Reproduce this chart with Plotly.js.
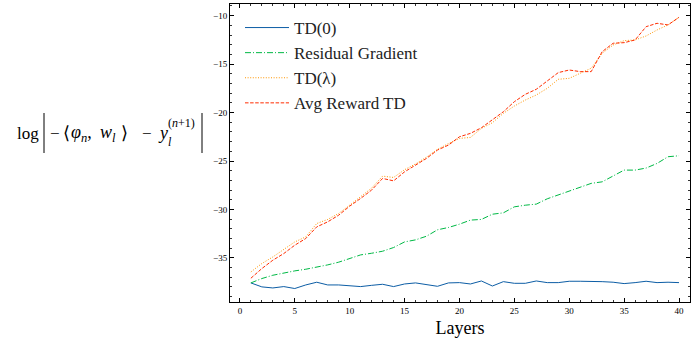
<!DOCTYPE html>
<html>
<head>
<meta charset="utf-8">
<script src="https://cdn.plot.ly/plotly-3.0.1.min.js"></script>
<style>html,body{margin:0;padding:0;background:#fff;}#chart{width:691px;height:341px;}</style>
</head>
<body>
<div id="chart"></div>
<script>
const layers = [1,2,3,4,5,6,7,8,9,10,11,12,13,14,15,16,17,18,19,20,21,22,23,24,25,26,27,28,29,30,31,32,33,34,35,36,37,38,39,40];
const td0 = [-37.58,-37.99,-38.1,-37.96,-38.16,-37.79,-37.51,-37.79,-37.79,-37.86,-37.96,-37.83,-37.72,-37.96,-37.69,-37.58,-37.72,-37.93,-37.58,-37.55,-37.69,-37.38,-37.9,-37.45,-37.62,-37.62,-37.38,-37.55,-37.55,-37.41,-37.41,-37.41,-37.45,-37.51,-37.65,-37.55,-37.41,-37.55,-37.51,-37.55];
const residualGradient = [-37.58,-37.13,-36.79,-36.55,-36.34,-36.17,-35.96,-35.72,-35.44,-35.1,-34.69,-34.52,-34.31,-33.93,-33.35,-33.14,-32.76,-32.1,-31.86,-31.52,-31.1,-31.03,-30.49,-30.35,-29.73,-29.56,-29.45,-28.9,-28.49,-28.11,-27.7,-27.31,-27.15,-26.56,-25.94,-25.94,-25.73,-25.25,-24.56,-24.46];
const tdLambda = [-36.45,-35.58,-34.9,-34.13,-33.35,-32.83,-31.45,-31.03,-30.41,-29.56,-28.7,-27.8,-26.56,-26.7,-25.9,-25.3,-24.6,-23.8,-23.2,-22.67,-22.57,-21.63,-21.05,-20.08,-19.33,-18.71,-18.19,-17.5,-16.57,-16.47,-15.95,-15.43,-13.88,-13.03,-12.58,-12.51,-12.1,-11.48,-10.96,-10.17];
const avgRewardTD = [-37.1,-36.1,-35.24,-34.55,-33.69,-33.0,-31.8,-31.28,-30.59,-29.66,-28.86,-28.0,-26.8,-27.05,-26.12,-25.42,-24.73,-23.87,-23.36,-22.5,-22.15,-21.57,-20.77,-19.92,-18.88,-18.12,-17.6,-16.71,-15.88,-15.61,-15.78,-15.78,-13.72,-12.85,-12.79,-12.51,-11.14,-10.79,-10.96,-10.17];
const seriesNames = ['TD(0)', 'Residual Gradient', 'TD(\u03BB)', 'Avg Reward TD'];
const xTickVals = [0,5,10,15,20,25,30,35,40];
const yTickVals = [-35,-30,-25,-20,-15,-10];

const serif = 'Liberation Serif, DejaVu Serif, serif';
const series = [td0, residualGradient, tdLambda, avgRewardTD];
const colors = ['#0C5DA5', '#00B945', '#FF9500', '#FF2C00'];
const dashes = ['solid', '6px,2px,1px,2px', '1px,1.6px', '3.5px,1.6px'];

const traces = series.map((ys, i) => ({
  x: layers, y: ys, type: 'scatter', mode: 'lines', name: seriesNames[i],
  legendgroup: 'g' + i,
  line: {color: colors[i], dash: dashes[i], width: 1}
}));

// pixel helpers for decorative label placement (paper coords)
const L = 230, R = 1, T = 4, B = 39, W = 691, H = 341;
const pw = W - L - R, ph = H - T - B;
const px = x => (x - L) / pw;
const py = y => 1 - (y - T) / ph;

const axisCommon = {
  showline: true, linecolor: '#000', linewidth: 1, mirror: 'allticks',
  ticks: 'inside', ticklen: 4, tickwidth: 1, tickcolor: '#000',
  showgrid: false, zeroline: false,
  tickfont: {family: serif, size: 9, color: '#000'},
  minor: {ticks: 'inside', ticklen: 2, tickwidth: 0.8, tickcolor: '#000', dtick: 1, showgrid: false}
};

function lab(x, y, text, size) {
  return {xref: 'paper', yref: 'paper', x: px(x), y: py(y), xanchor: 'left', yanchor: 'middle',
    showarrow: false, text: text, font: {family: serif, size: size, color: '#000'}};
}

const layout = {
  width: W, height: H,
  margin: {l: L, r: R, t: T, b: B},
  paper_bgcolor: '#fff', plot_bgcolor: '#fff',
  showlegend: true,
  legend: {x: px(240), y: py(10), xanchor: 'left', yanchor: 'top',
    font: {family: serif, size: 17, color: '#222'}, bgcolor: 'rgba(0,0,0,0)',
    traceorder: 'grouped', tracegroupgap: 0, itemwidth: 44},
  xaxis: Object.assign({}, axisCommon, {
    range: [-0.9, 41.0], tickvals: xTickVals,
    title: {text: 'Layers', font: {family: serif, size: 18, color: '#000'}, standoff: 6}
  }),
  yaxis: Object.assign({}, axisCommon, {
    range: [-39.55, -8.8], tickvals: yTickVals
  }),
  shapes: [
    {type: 'line', xref: 'paper', yref: 'paper', x0: px(44), x1: px(44), y0: py(113), y1: py(153), line: {color: '#000', width: 1}},
    {type: 'line', xref: 'paper', yref: 'paper', x0: px(202), x1: px(202), y0: py(113), y1: py(153), line: {color: '#000', width: 1}}
  ],
  annotations: [
    lab(15, 133, 'log', 17),
    lab(48, 133, '\u2212', 17),
    lab(61, 133, '\u27E8', 18),
    lab(69, 133, '<i>\u03C6</i><sub><i>n</i></sub>,', 18),
    lab(98, 133, '<i>w</i><sub><i>l</i></sub>', 18),
    lab(119, 133, '\u27E9', 18),
    lab(140, 133, '\u2212', 17),
    lab(156, 133, '<i>y</i>', 18),
    lab(166, 123, '(<i>n</i>+1)', 12),
    lab(166, 142, '<i>l</i>', 12)
  ]
};

Plotly.newPlot('chart', traces, layout, {displayModeBar: false, staticPlot: true});
</script>
</body>
</html>
